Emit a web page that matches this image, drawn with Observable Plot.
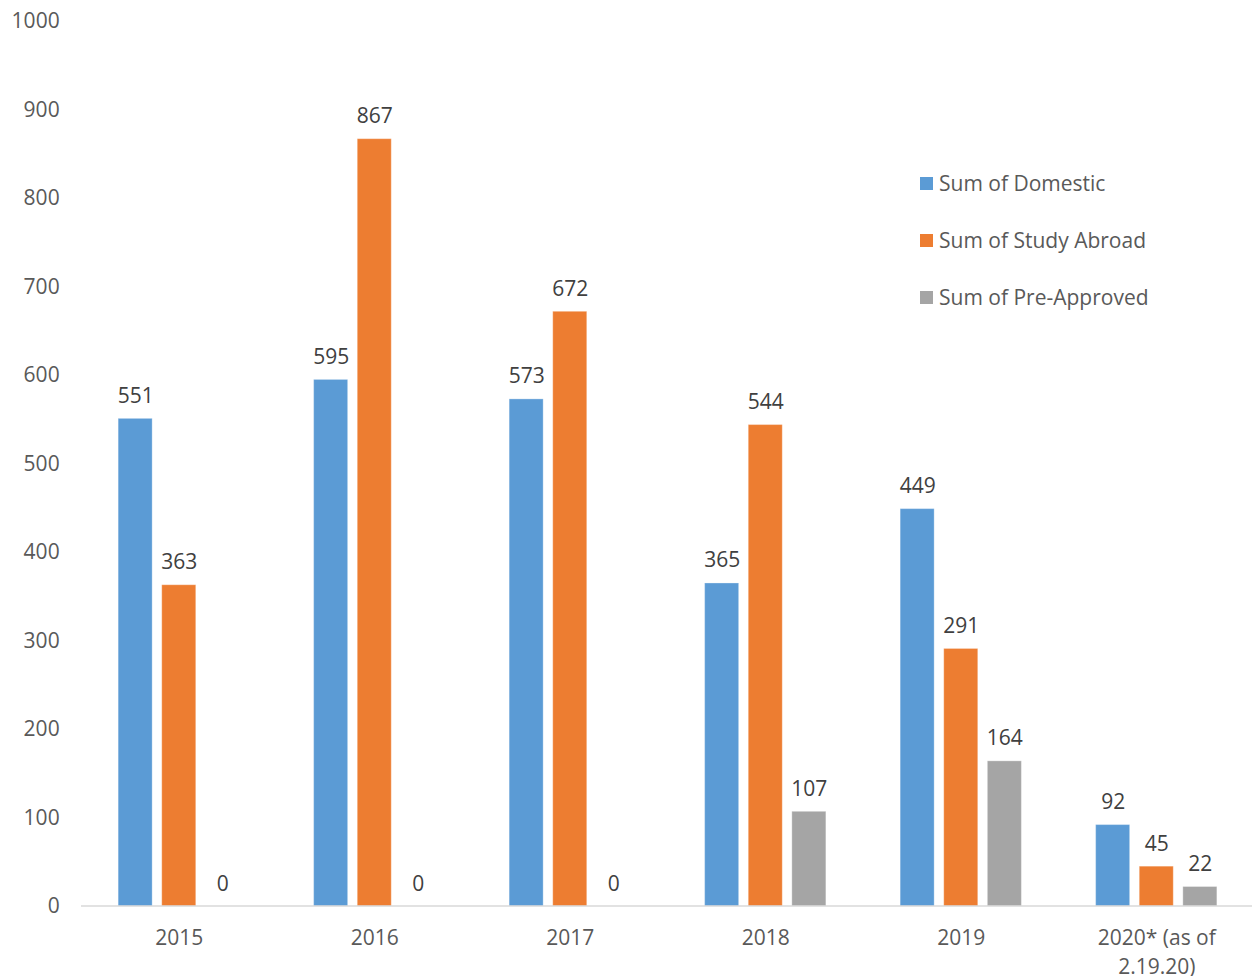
<!DOCTYPE html>
<html>
<head>
<meta charset="utf-8">
<script src="https://cdn.jsdelivr.net/npm/d3@7"></script>
<script src="https://cdn.jsdelivr.net/npm/@observablehq/plot@0.6"></script>
<style>
  html, body { margin: 0; padding: 0; background: #fff; }
  #wrap { position: relative; width: 1252px; height: 976px; font-family: "Open Sans", sans-serif; }
  #legend { position: absolute; left: 920px; top: 169px; font-size: 21px; color: #595959; }
  #legend .row { display: flex; align-items: center; height: 28px; margin-bottom: 29px; white-space: nowrap; }
  #legend .sw { width: 13px; height: 13px; margin-right: 6px; }
</style>
</head>
<body>
<div id="wrap">
  <div id="chart"></div>
  <div id="legend"></div>
</div>
<script>
const years = ["2015", "2016", "2017", "2018", "2019", "2020"];
const yearLabels = ["2015", "2016", "2017", "2018", "2019", "2020* (as of\n2.19.20)"];
const series = ["Sum of Domestic", "Sum of Study Abroad", "Sum of Pre-Approved"];
const colors = ["#5B9BD5", "#ED7D31", "#A5A5A5"];
const domestic = [551, 595, 573, 365, 449, 92];
const studyAbroad = [363, 867, 672, 544, 291, 45];
const preApproved = [0, 0, 0, 107, 164, 22];
const yTicks = [0, 100, 200, 300, 400, 500, 600, 700, 800, 900, 1000];

const valuesBySeries = [domestic, studyAbroad, preApproved];
const data = [];
years.forEach((yr, i) => {
  series.forEach((s, j) => data.push({year: yr, series: s, value: valuesBySeries[j][i]}));
});
const labelOf = new Map(years.map((y, i) => [y, yearLabels[i]]));

const W = 1252, H = 976, ML = 81, MR = 0, MT = 21, MB = 70;

const chart = Plot.plot({
  width: W,
  height: H,
  marginLeft: ML,
  marginRight: MR,
  marginTop: MT,
  marginBottom: MB,
  style: {fontFamily: "'Open Sans', sans-serif", fontSize: "21px", color: "#595959"},
  fx: {domain: years, range: [ML, W + 2], round: false, paddingInner: 0.38, paddingOuter: 0.19, label: null},
  x: {domain: series, round: false, paddingInner: 0.22, paddingOuter: 0, axis: null},
  y: {domain: [0, 1000], ticks: yTicks},
  color: {domain: series, range: colors},
  marks: [
    Plot.barY(data, {fx: "year", x: "series", y: "value", fill: "series", stroke: "#ffffff", strokeOpacity: 0.3, strokeWidth: 1}),
    Plot.text(data, {fx: "year", x: "series", y: "value", text: d => String(d.value), dy: -16, lineAnchor: "bottom", fill: "#404040", fontSize: 21}),
    Plot.axisY({ticks: yTicks, tickFormat: d => String(d), tickSize: 0, tickPadding: 59, label: null, fill: "#595959", fontSize: 21}),
    Plot.axisFx({anchor: "bottom", tickSize: 0, tickPadding: 18, label: null, tickFormat: d => labelOf.get(d), lineHeight: 1.38, fill: "#595959", fontSize: 21})
  ]
});
// full-width category axis baseline, positioned with the chart's own y scale
const y0 = chart.scale("y").apply(0);
d3.select(chart).append("line")
  .attr("x1", ML).attr("x2", W - MR)
  .attr("y1", y0).attr("y2", y0)
  .attr("stroke", "#D9D9D9").attr("stroke-width", 1.5);
document.getElementById("chart").appendChild(chart);

const legend = document.getElementById("legend");
series.forEach((s, j) => {
  const row = document.createElement("div");
  row.className = "row";
  const sw = document.createElement("div");
  sw.className = "sw";
  sw.style.background = colors[j];
  const t = document.createElement("span");
  t.textContent = s;
  row.appendChild(sw);
  row.appendChild(t);
  legend.appendChild(row);
});
</script>
</body>
</html>
